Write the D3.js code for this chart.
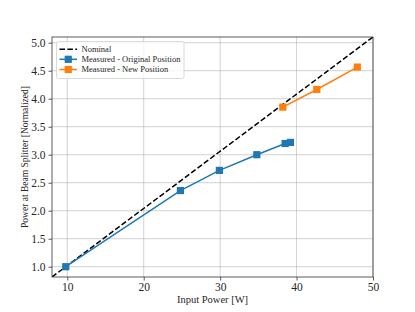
<!DOCTYPE html>
<html><head><meta charset="utf-8">
<script src="https://cdn.jsdelivr.net/npm/d3@7"></script>
<style>body{margin:0;background:#fff}svg{display:block}text{font-family:"Liberation Serif","DejaVu Serif",serif;fill:#262626}</style>
</head><body>
<script>
const originalX = [9.8, 24.8, 29.9, 34.8, 38.5, 39.2];
const originalY = [1.0, 2.36, 2.72, 3.0, 3.2, 3.22];
const newX = [38.2, 42.65, 47.95];
const newY = [3.85, 4.165, 4.565];
const nominalX = [8, 50];
const nominalY = [8/9.8, 50/9.8];
const xTicks = [10, 20, 30, 40, 50];
const yTicks = [1.0, 1.5, 2.0, 2.5, 3.0, 3.5, 4.0, 4.5, 5.0];
const legendLabels = ["Nominal", "Measured - Original Position", "Measured - New Position"];

const W = 415, H = 312;
const L = 52, R = 373, T = 37, B = 277;
const svg = d3.select("body").append("svg").attr("width", W).attr("height", H);
const x = d3.scaleLinear().domain([8, 50]).range([L, R]);
const y = d3.scaleLinear().domain([8/9.8, 50/9.8]).range([B, T]);

// grid
const g = svg.append("g");
g.selectAll(".gx").data(xTicks).enter().append("line")
  .attr("x1", d => x(d)).attr("x2", d => x(d)).attr("y1", T).attr("y2", B)
  .attr("stroke", "#b0b0b0").attr("stroke-width", 0.8).attr("opacity", 0.7);
g.selectAll(".gy").data(yTicks).enter().append("line")
  .attr("y1", d => y(d)).attr("y2", d => y(d)).attr("x1", L).attr("x2", R)
  .attr("stroke", "#b0b0b0").attr("stroke-width", 0.8).attr("opacity", 0.7);

// axes
const xa = svg.append("g").attr("transform", `translate(0,${B})`)
  .call(d3.axisBottom(x).tickValues(xTicks).tickSize(3.5).tickPadding(2).tickFormat(d3.format("d")));
const ya = svg.append("g").attr("transform", `translate(${L},0)`)
  .call(d3.axisLeft(y).tickValues(yTicks).tickSize(3.5).tickPadding(3).tickFormat(d3.format(".1f")));
[xa, ya].forEach(a => {
  a.select(".domain").remove();
  a.selectAll("line").attr("stroke", "#333").attr("stroke-width", 0.8);
  a.selectAll("text").style("font-size", "11.5px").attr("fill", "#262626").style("font-family", '"Liberation Serif",serif');
});

// clip
svg.append("clipPath").attr("id", "clip").append("rect").attr("x", L).attr("y", T).attr("width", R - L).attr("height", B - T);
const plot = svg.append("g").attr("clip-path", "url(#clip)");
const line = d3.line().x(d => x(d[0])).y(d => y(d[1]));

const nominal = nominalX.map((v, i) => [v, nominalY[i]]);
const orig = originalX.map((v, i) => [v, originalY[i]]);
const neu = newX.map((v, i) => [v, newY[i]]);

plot.append("path").datum(nominal).attr("d", line).attr("fill", "none")
  .attr("stroke", "#000").attr("stroke-width", 1.5).attr("stroke-dasharray", "5.5,2.4");

function series(data, color) {
  svg.append("path").datum(data).attr("d", line).attr("fill", "none")
    .attr("stroke", color).attr("stroke-width", 1.5);
  svg.selectAll(null).data(data).enter().append("rect")
    .attr("x", d => x(d[0]) - 3.6).attr("y", d => y(d[1]) - 3.6)
    .attr("width", 7.2).attr("height", 7.2).attr("fill", color);
}
series(orig, "#1f77b4");
series(neu, "#ff7f0e");

// spines
svg.append("rect").attr("x", L).attr("y", T).attr("width", R - L).attr("height", B - T)
  .attr("fill", "none").attr("stroke", "#333").attr("stroke-width", 0.8);

// labels
svg.append("text").attr("x", (L + R) / 2).attr("y", 302.5).attr("text-anchor", "middle")
  .style("font-size", "10.5px").text("Input Power [W]");
svg.append("text").attr("transform", `translate(28,${(T + B) / 2}) rotate(-90)`).attr("text-anchor", "middle")
  .style("font-size", "9.5px").text("Power at Beam Splitter [Normalized]");

// legend
const lg = svg.append("g");
lg.append("rect").attr("x", 56.5).attr("y", 41.5).attr("width", 127.5).attr("height", 37).attr("rx", 2)
  .attr("fill", "#fff").attr("fill-opacity", 0.8).attr("stroke", "#d0d0d0").attr("stroke-width", 0.8);
const rows = [49.2, 59.3, 69.5];
const colors = ["#000", "#1f77b4", "#ff7f0e"];
legendLabels.forEach((lab, i) => {
  const ry = rows[i];
  const ln = lg.append("line").attr("x1", 59.5).attr("x2", 77).attr("y1", ry).attr("y2", ry)
    .attr("stroke", colors[i]).attr("stroke-width", 1.5);
  if (i === 0) ln.attr("stroke-dasharray", "5.5,2.4");
  else lg.append("rect").attr("x", 68.25 - 3.6).attr("y", ry - 3.6).attr("width", 7.2).attr("height", 7.2).attr("fill", colors[i]);
  lg.append("text").attr("x", 81.5).attr("y", ry + 2.8).style("font-size", "8.5px").text(lab);
});
</script>
</body></html>
